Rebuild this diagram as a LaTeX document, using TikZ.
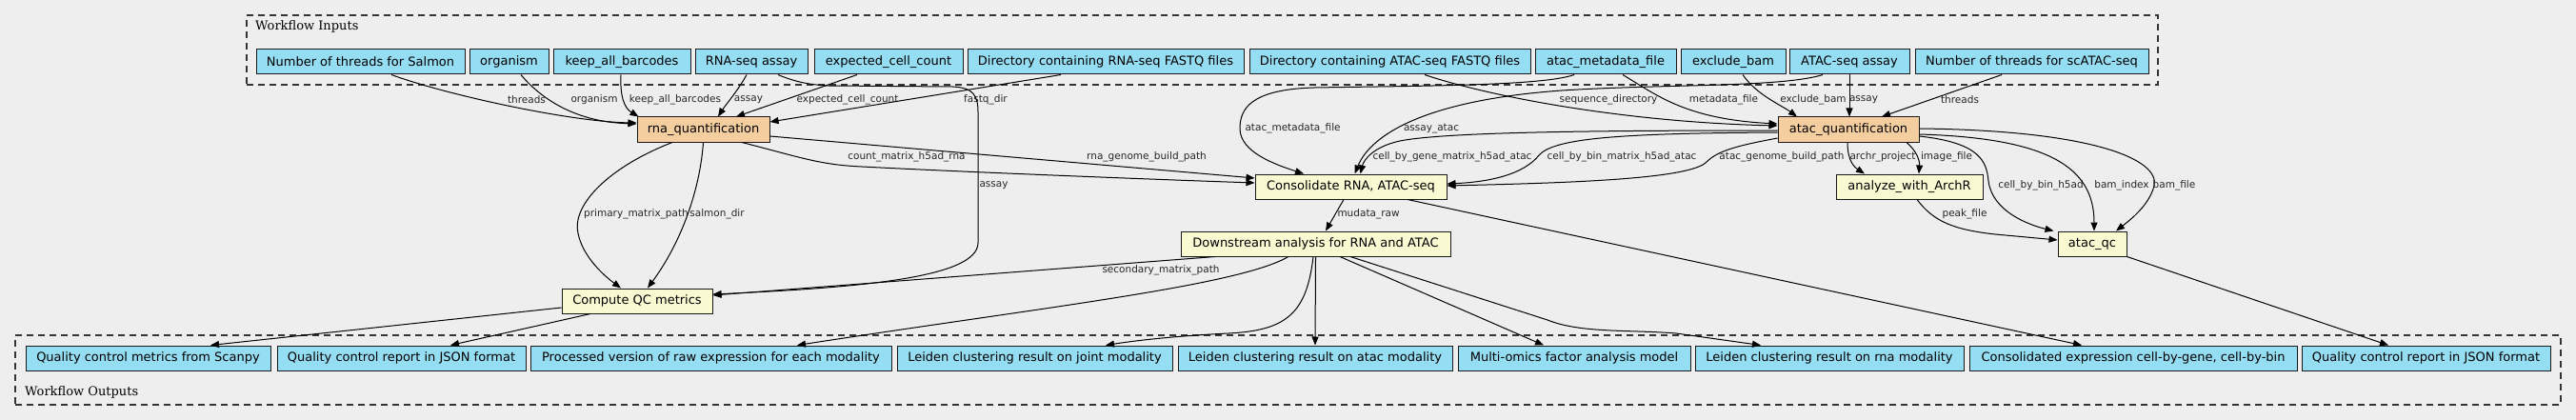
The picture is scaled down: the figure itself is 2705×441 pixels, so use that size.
\documentclass[tikz,border=0pt]{standalone}
\usepackage{fontspec}
\setmainfont{DejaVu Sans}
\newfontfamily\clusterfont{DejaVu Serif}
\usetikzlibrary{arrows.meta}
\definecolor{bgc}{RGB}{238,238,238}
\definecolor{iocol}{RGB}{148,221,243}
\definecolor{quantcol}{RGB}{245,206,160}
\definecolor{stepcol}{RGB}{250,250,210}
\tikzset{
 box/.style={draw=black!90, line width=1pt, inner sep=0pt, minimum height=26pt, font=\fontsize{13}{15}\selectfont, anchor=center},
 iobox/.style={box, fill=iocol},
 quantbox/.style={box, fill=quantcol},
 stepbox/.style={box, fill=stepcol},
 edge/.style={draw=black, line width=1pt, -{Triangle[length=9pt,width=7pt]}},
 lbl/.style={font=\fontsize{10.5}{12}\selectfont, inner sep=0pt, text=black!85},
 cluster/.style={draw=black!80, line width=1.2pt, dash pattern=on 7pt off 5pt, inner sep=0pt},
 clabel/.style={font=\clusterfont\fontsize{13}{15}\selectfont, inner sep=0pt, anchor=west},
}
\begin{document}
\begin{tikzpicture}[x=1pt,y=-1pt]
\fill[bgc] (0,0) rectangle (2705,441);
\useasboundingbox (0,0) rectangle (2705,441);
% clusters
\node[cluster, minimum width=2007pt, minimum height=73pt] (inputs) at (1262.5,52.5) {};
\node[clabel] (inlabel) at (268,28) {Workflow Inputs};
\node[cluster, minimum width=2673pt, minimum height=73pt] (outputs) at (1352.5,388.5) {};
\node[clabel] (outlabel) at (26,412) {Workflow Outputs};
% inputs
\node[iobox, minimum width=219pt] (in1) at (378.5,65) {Number of threads for Salmon};
\node[iobox, minimum width=83pt] (in2) at (534.5,65) {organism};
\node[iobox, minimum width=144pt] (in3) at (653,65) {keep\_all\_barcodes};
\node[iobox, minimum width=118pt] (in4) at (789,65) {RNA-seq assay};
\node[iobox, minimum width=156pt] (in5) at (933,65) {expected\_cell\_count};
\node[iobox, minimum width=290pt] (in6) at (1161,65) {Directory containing RNA-seq FASTQ files};
\node[iobox, minimum width=295pt] (in7) at (1459.5,65) {Directory containing ATAC-seq FASTQ files};
\node[iobox, minimum width=148pt] (in8) at (1686,65) {atac\_metadata\_file};
\node[iobox, minimum width=110pt] (in9) at (1820,65) {exclude\_bam};
\node[iobox, minimum width=126pt] (in10) at (1942,65) {ATAC-seq assay};
\node[iobox, minimum width=245pt] (in11) at (2133.5,65) {Number of threads for scATAC-seq};
% outputs
\node[iobox, minimum width=257pt] (o1) at (155.5,376) {Quality control metrics from Scanpy};
\node[iobox, minimum width=261pt] (o2) at (421.5,376) {Quality control report in JSON format};
\node[iobox, minimum width=379pt] (o3) at (746.5,376) {Processed version of raw expression for each modality};
\node[iobox, minimum width=289pt] (o4) at (1086.5,376) {Leiden clustering result on joint modality};
\node[iobox, minimum width=288pt] (o5) at (1381,376) {Leiden clustering result on atac modality};
\node[iobox, minimum width=244pt] (o6) at (1653,376) {Multi-omics factor analysis model};
\node[iobox, minimum width=282pt] (o7) at (1921,376) {Leiden clustering result on rna modality};
\node[iobox, minimum width=344pt] (o8) at (2240,376) {Consolidated expression cell-by-gene, cell-by-bin};
\node[iobox, minimum width=261pt] (o9) at (2547.5,376) {Quality control report in JSON format};
% steps
\node[quantbox, minimum width=139pt] (rna) at (738.5,136) {rna\_quantification};
\node[quantbox, minimum width=148pt] (atacq) at (1941,136) {atac\_quantification};
\node[stepbox, minimum width=201pt] (cons) at (1418.5,196) {Consolidate RNA, ATAC-seq};
\node[stepbox, minimum width=154pt] (archr) at (2005,196) {analyze\_with\_ArchR};
\node[stepbox, minimum width=72pt] (atacqc) at (2197,256) {atac\_qc};
\node[stepbox, minimum width=283pt] (down) at (1381.5,256) {Downstream analysis for RNA and ATAC};
\node[stepbox, minimum width=158pt] (cqc) at (669,316) {Compute QC metrics};
% edges: inputs -> rna
\draw[edge] ([xshift=32.5pt]in1.south) .. controls (470,100) and (600,128) .. ([yshift=7pt]rna.west) node[lbl] at (553,105) {threads};
\draw[edge] ([xshift=12.5pt]in2.south) .. controls (565,100) and (600,128) .. ([yshift=6pt]rna.west) node[lbl] at (624,105) {organism};
\draw[edge] ([xshift=-1pt]in3.south) .. controls (651,100) and (655,113) .. ([xshift=2pt]rna.north west) node[lbl] at (709,105) {keep\_all\_barcodes};
\draw[edge] ([xshift=-5pt]in4.south) .. controls (775,95) and (762,110) .. ([xshift=15.5pt]rna.north) node[lbl] at (786,105) {assay};
\draw[edge] ([xshift=-33pt]in5.south) -- ([xshift=34.5pt]rna.north) node[lbl] at (890,105) {expected\_cell\_count};
\draw[edge] ([xshift=-47pt]in6.south) -- ([yshift=8pt]rna.east) node[lbl] at (1035,105) {fastq\_dir};
\draw[edge] ([xshift=28pt]in4.south) .. controls (835,86) and (850,89) .. (870,90) -- (1000,91) .. controls (1022,92) and (1027,100) .. (1027,118) -- (1027,255) .. controls (1027,292) and (900,302) .. ([yshift=7pt]cqc.east) node[lbl, anchor=west] at (1028,195) {assay};
% inputs -> atac quantification
\draw[edge] ([xshift=36.5pt]in7.south) .. controls (1560,100) and (1700,128) .. ([yshift=4pt]atacq.west) node[lbl] at (1689,105) {sequence\_directory};
\draw[edge] ([xshift=18pt]in8.south) .. controls (1740,100) and (1770,125) .. ([yshift=6pt]atacq.west) node[lbl] at (1810,105) {metadata\_file};
\draw[edge] ([xshift=10pt]in9.south) .. controls (1845,100) and (1870,110) .. ([xshift=-54pt]atacq.north) node[lbl] at (1904,105) {exclude\_bam};
\draw[edge] (in10.south) -- ([xshift=1pt]atacq.north) node[lbl] at (1957,105) {assay};
\draw[edge] ([xshift=-31.5pt]in11.south) -- ([xshift=35pt]atacq.north) node[lbl] at (2058,105) {threads};
% inputs -> consolidate
\draw[edge] ([xshift=-33pt]in8.south) .. controls (1620,90) and (1500,90) .. (1380,92) .. controls (1312,94) and (1302,115) .. (1302,135) .. controls (1302,160) and (1340,173) .. ([xshift=-49.5pt]cons.north) node[lbl, anchor=west] at (1307,135) {atac\_metadata\_file};
\draw[edge] ([xshift=-28pt]in10.south) .. controls (1870,92) and (1750,88) .. (1640,95) .. controls (1500,105) and (1440,140) .. ([xshift=4pt]cons.north) node[lbl] at (1503,135) {assay\_atac};
% atac quant -> consolidate
\draw[edge] ([yshift=-1pt]atacq.west) .. controls (1700,137) and (1520,138) .. (1470,148) .. controls (1442,154) and (1432,168) .. ([xshift=10pt]cons.north) node[lbl] at (1525,165) {cell\_by\_gene\_matrix\_h5ad\_atac};
\draw[edge] ([yshift=-3pt]atacq.west) .. controls (1700,140) and (1632,145) .. (1616,163) .. controls (1600,183) and (1565,191) .. ([yshift=3pt]cons.east) node[lbl] at (1703,165) {cell\_by\_bin\_matrix\_h5ad\_atac};
\draw[edge] ([yshift=-9pt]atacq.west) .. controls (1830,152) and (1805,157) .. (1792,170) .. controls (1775,188) and (1650,192) .. ([yshift=1pt]cons.east) node[lbl] at (1871,165) {atac\_genome\_build\_path};
% rna -> consolidate
\draw[edge] ([xshift=40.5pt]rna.south) .. controls (840,165) and (860,173) .. (905,175) .. controls (1000,180) and (1200,188) .. ([yshift=4pt]cons.west) node[lbl] at (952,165) {count\_matrix\_h5ad\_rna};
\draw[edge] ([yshift=-7pt]rna.east) -- ([yshift=9pt]cons.west) node[lbl] at (1204,165) {rna\_genome\_build\_path};
% rna -> compute QC
\draw[edge] ([xshift=-32.5pt]rna.south) .. controls (640,175) and (600,215) .. (607,245) .. controls (612,270) and (635,290) .. ([xshift=-17pt]cqc.north) node[lbl] at (668,225) {primary\_matrix\_path};
\draw[edge] (rna.south) .. controls (735,200) and (715,255) .. ([xshift=11pt]cqc.north) node[lbl] at (753,225) {salmon\_dir};
% consolidate -> downstream / output
\draw[edge] ([xshift=-7.5pt]cons.south) -- ([xshift=10.5pt]down.north) node[lbl, anchor=west] at (1404,225) {mudata\_raw};
\draw[edge] ([xshift=59.5pt]cons.south) -- ([xshift=-54pt]o8.north);
% downstream
\draw[edge] ([xshift=-105.5pt]down.south) -- ([yshift=6pt]cqc.east) node[lbl] at (1219,284) {secondary\_matrix\_path};
\draw[edge] ([xshift=-28.5pt]down.south) .. controls (1300,300) and (1100,322) .. ([xshift=90.5pt]o3.north);
\draw[edge] ([xshift=-2.5pt]down.south) .. controls (1372,330) and (1350,347) .. (1290,350) .. controls (1230,353) and (1190,358) .. ([xshift=74.5pt]o4.north);
\draw[edge] (down.south) -- (o5.north);
\draw[edge] ([xshift=25.5pt]down.south) -- ([xshift=-32pt]o6.north);
\draw[edge] ([xshift=36.5pt]down.south) -- (1625,336) .. controls (1660,350) and (1710,346) .. (1760,350) -- ([xshift=-72pt]o7.north);
% atac quant -> archr / atac_qc
\draw[edge] ([xshift=-1pt]atacq.south) .. controls (1940,170) and (1948,176) .. ([xshift=-47pt]archr.north) node[lbl] at (1977,165) {archr\_project};
\draw[edge] ([xshift=61pt]atacq.south) .. controls (2012,158) and (2016,168) .. ([xshift=10pt]archr.north) node[lbl] at (2044,165) {image\_file};
\draw[edge] ([yshift=-7pt]atacq.east) .. controls (2080,150) and (2086,170) .. (2088,190) .. controls (2092,222) and (2130,236) .. ([xshift=-4pt]atacqc.north west) node[lbl] at (2143,195) {cell\_by\_bin\_h5ad};
\draw[edge] ([yshift=-5pt]atacq.east) .. controls (2150,145) and (2199,175) .. ([xshift=2pt]atacqc.north) node[lbl] at (2228,195) {bam\_index};
\draw[edge] ([yshift=1pt]atacq.east) .. controls (2200,137) and (2268,168) .. (2262,195) .. controls (2257,215) and (2238,230) .. ([xshift=25pt]atacqc.north) node[lbl] at (2283,195) {bam\_file};
\draw[edge] ([xshift=8pt]archr.south) .. controls (2030,232) and (2050,241) .. (2095,246) -- ([yshift=4pt]atacqc.west) node[lbl] at (2063,225) {peak\_file};
\draw[edge] (atacqc.south east) -- ([xshift=-39.5pt]o9.north);
% compute QC -> outputs
\draw[edge] ([yshift=-7pt]cqc.west) -- ([xshift=65.5pt]o1.north);
\draw[edge] ([xshift=-49pt]cqc.south) -- ([xshift=51.5pt]o2.north);
\end{tikzpicture}
\end{document}
